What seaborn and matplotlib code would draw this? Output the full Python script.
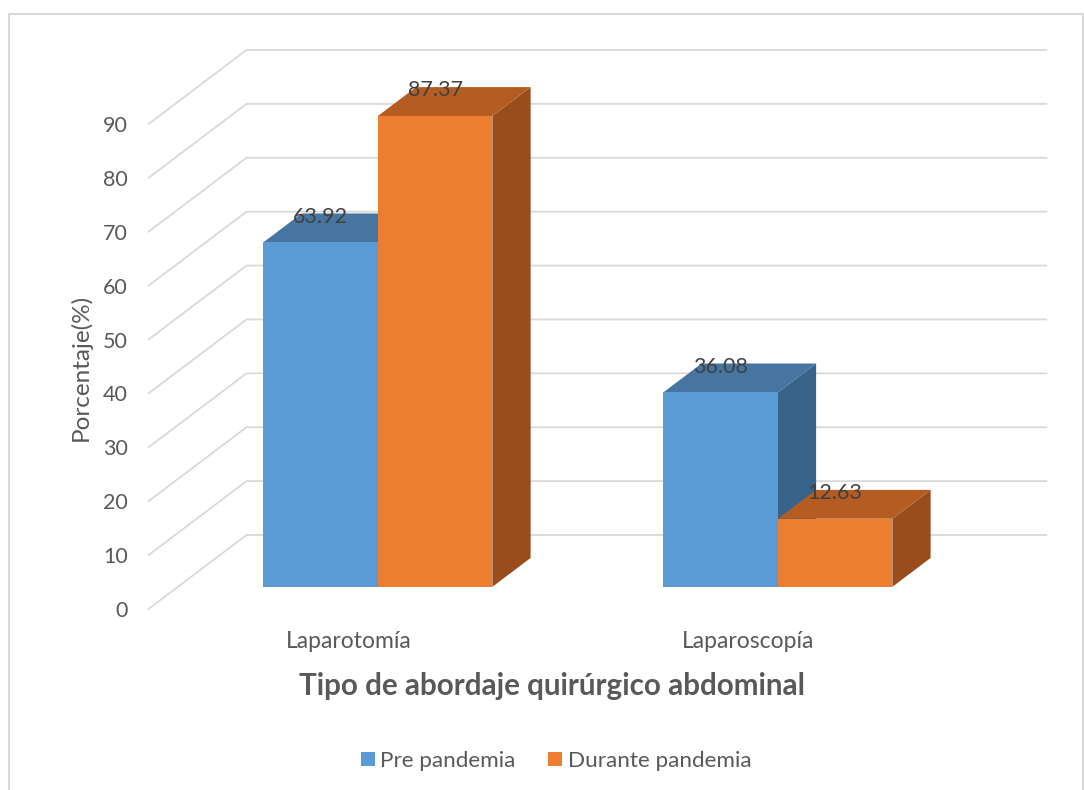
import numpy as np
import pandas as pd
import matplotlib
matplotlib.use("Agg")
import matplotlib.pyplot as plt
import seaborn as sns
from matplotlib.patches import Polygon, Rectangle
from matplotlib.lines import Line2D
from matplotlib.transforms import ScaledTranslation, IdentityTransform

# ---- data ----
categories = ["Laparotomía", "Laparoscopía"]
series = ["Pre pandemia", "Durante pandemia"]
pre_values = [63.92, 36.08]
durante_values = [87.37, 12.63]
y_ticks = [0, 10, 20, 30, 40, 50, 60, 70, 80, 90]

# face colours: front, top, side
front_colors = ["#5B9BD5", "#ED7D31"]
top_colors = ["#4675A1", "#B45C22"]
side_colors = ["#38638A", "#994D1D"]

sns.set_theme(style="white")
plt.rcParams["font.family"] = ["Lato", "DejaVu Sans"]

DPI = 100
W, H = 1084, 790
fig = plt.figure(figsize=(W / DPI, H / DPI), dpi=DPI)
fig.patch.set_facecolor("white")
ax = fig.add_axes([148.5 / W, (H - 609) / H, 800 / W, 485 / H])

df = pd.DataFrame({
    "Tipo": categories * 2,
    "Periodo": [series[0]] * 2 + [series[1]] * 2,
    "Porcentaje": pre_values + durante_values,
})

sns.barplot(data=df, x="Tipo", y="Porcentaje", hue="Periodo",
            hue_order=series, order=categories,
            palette=front_colors, saturation=1, width=0.5725, gap=0,
            linewidth=0, legend=False, ax=ax)

ax.set_xlim(-0.5, 1.5)
ax.set_ylim(0, 90)

# oblique depth of the floor/walls, in display pixels (right, up)
WALL = np.array([98.0, 74.0])
F_FRONT, F_BACK = 0.30, 0.69


def disp(x, y, depth):
    return ax.transData.transform((x, y)) + depth * WALL


# back wall + side wall gridlines
for v in y_ticks:
    p0 = disp(-0.5, v, 0)
    p1 = disp(-0.5, v, 1)
    p2 = disp(1.5, v, 1)
    ax.add_line(Line2D([p0[0], p1[0], p2[0]], [p0[1], p1[1], p2[1]],
                       transform=IdentityTransform(), color="#d9d9d9",
                       lw=1.3, zorder=0.5, clip_on=False))

# 3D boxes on top of the seaborn bars
hue_of = {}
for i, p in enumerate(ax.patches):
    hue_of[id(p)] = 0 if i < len(categories) else 1

bars = sorted(ax.patches, key=lambda p: p.get_x())
shift = ScaledTranslation(F_FRONT * WALL[0] / DPI, F_FRONT * WALL[1] / DPI,
                          fig.dpi_scale_trans)
for k, p in enumerate(bars):
    hi = hue_of[id(p)]
    x0, w, h = p.get_x(), p.get_width(), p.get_height()
    z = 2 + k
    top = [disp(x0, h, F_FRONT), disp(x0 + w, h, F_FRONT),
           disp(x0 + w, h, F_BACK), disp(x0, h, F_BACK)]
    side = [disp(x0 + w, 0, F_FRONT), disp(x0 + w, 0, F_BACK),
            disp(x0 + w, h, F_BACK), disp(x0 + w, h, F_FRONT)]
    ax.add_patch(Polygon(side, closed=True, transform=IdentityTransform(),
                         facecolor=side_colors[hi], edgecolor="none",
                         zorder=z, clip_on=False))
    ax.add_patch(Polygon(top, closed=True, transform=IdentityTransform(),
                         facecolor=top_colors[hi], edgecolor="none",
                         zorder=z, clip_on=False))
    p.set_transform(ax.transData + shift)
    p.set_clip_on(False)
    p.set_zorder(z + 0.1)
    ax.annotate(f"{h:.2f}", xy=(x0 + w / 2, h),
                xytext=(F_FRONT * WALL[0] * 0.72, 48 * 0.72),
                textcoords="offset points", ha="center", va="center",
                fontsize=15.5, color="#404040", zorder=20,
                annotation_clip=False)

# axes decoration
for s in ax.spines.values():
    s.set_visible(False)
ax.set_yticks(y_ticks)
ax.set_xticks(range(len(categories)))
ax.set_xticklabels(categories)
ax.tick_params(axis="y", length=0, pad=15, labelsize=15.5, labelcolor="#595959")
ax.tick_params(axis="x", length=0, pad=16, labelsize=16.5, labelcolor="#595959")
ax.grid(False)

ax.set_ylabel("Porcentaje(%)", fontsize=17.5, color="#595959")
ax.yaxis.label.set_va("center")
ax.yaxis.set_label_coords((81 - 148.5) / 800, (609 - 367) / 485)

ax.set_xlabel("Tipo de abordaje quirúrgico abdominal", fontsize=21.3,
              fontweight="bold", color="#595959")
ax.xaxis.label.set_va("center")
ax.xaxis.set_label_coords((552 - 148.5) / 800, (609 - 686) / 485)

handles = [Rectangle((0, 0), 1, 1, facecolor=c, edgecolor="none")
           for c in front_colors]
fig.legend(handles, series, loc="center", ncol=2,
           bbox_to_anchor=(556 / W, 1 - 761 / H), frameon=False,
           fontsize=16.2, labelcolor="#595959", handlelength=0.62,
           handleheight=0.62, handletextpad=0.25, columnspacing=1.45)

# chart area border
fig.add_artist(Rectangle((9 / W, -0.05), (1083 - 9) / W, (H - 14) / H + 0.05,
                         transform=fig.transFigure, fill=False,
                         edgecolor="#d9d9d9", lw=1.5))

fig.savefig("out.png", dpi=DPI)
